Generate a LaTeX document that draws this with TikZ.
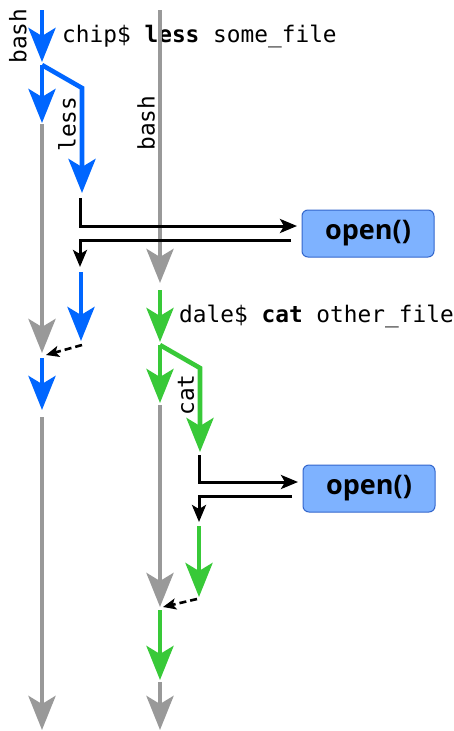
\documentclass[tikz,border=0pt]{standalone}
\usepackage{fontspec}
\setmonofont{DejaVu Sans Mono}
\newfontfamily\boxfont{Open Sans}
\usetikzlibrary{arrows.meta}
\definecolor{cblue}{RGB}{0,102,255}
\definecolor{cgreen}{RGB}{56,201,56}
\definecolor{cgray}{RGB}{153,153,153}
\definecolor{boxfill}{RGB}{126,178,255}
\definecolor{boxdraw}{RGB}{51,102,204}
\begin{document}
\begin{tikzpicture}[x=1pt,y=-1pt,
  flow/.style={line width=4.6pt,line join=miter,-{Stealth[length=34pt,width=27pt,inset=8pt]}},
  callarrow/.style={line width=3pt,-{Stealth[length=17pt,width=14pt,inset=4pt]}},
  retarrow/.style={line width=2.6pt,dash pattern=on 7pt off 4pt,-{Stealth[length=13pt,width=11pt,inset=3pt]}},
  cmd/.style={font=\ttfamily\fontsize{22.8}{24}\selectfont,inner sep=0pt,anchor=base west},
  proc/.style={font=\ttfamily\fontsize{22.8}{24}\selectfont,inner sep=0pt,rotate=90},
  sysbox/.style={draw=boxdraw,fill=boxfill,line width=1pt,rounded corners=6pt,minimum width=132pt,minimum height=47pt,inner sep=0pt,font=\boxfont\bfseries\fontsize{27}{29}\selectfont}
]
\useasboundingbox (0,0) rectangle (454,731);
% lane 1 (chip)
\coordinate (a0) at (42,10);
\coordinate (a1) at (42,62);
\coordinate (a2) at (42,65);
\coordinate (a3) at (42,123);
\coordinate (l0) at (82,88);
\coordinate (l1) at (82,193);
\coordinate (g1s) at (42,124);
\coordinate (g1e) at (42,353);
\coordinate (g2s) at (160,10);
\coordinate (g2e) at (160,283);
\coordinate (k0) at (80,198);
\coordinate (k1) at (80,226);
\coordinate (k2) at (297,226);
\coordinate (k3) at (291,240);
\coordinate (k4) at (80,240);
\coordinate (k5) at (80,267);
\coordinate (r0) at (81,272);
\coordinate (r1) at (81,341);
\coordinate (d0) at (82,345);
\coordinate (d1) at (46,355);
\coordinate (e0) at (42,358);
\coordinate (e1) at (42,410);
\coordinate (f0) at (42,417);
\coordinate (f1) at (42,730);
\node[sysbox] (open1) at (368,233.5) {open()};
\node[cmd] (cmd1) at (62,42) {chip\$ \textbf{less} some\_file};
\node[proc] (bash1) at (18,36) {bash};
\node[proc] (less1) at (67,124) {less};
\node[proc] (bash2) at (146,123) {bash};
\draw[flow,cblue] (a0) -- (a1);
\draw[flow,cblue] (a2) -- (a3);
\draw[flow,cblue] (a2) -- (l0) -- (l1);
\draw[flow,cgray] (g1s) -- (g1e);
\draw[flow,cgray] (g2s) -- (g2e);
\draw[callarrow] (k0) -- (k1) -- (k2);
\draw[callarrow] (k3) -- (k4) -- (k5);
\draw[flow,cblue] (r0) -- (r1);
\draw[retarrow] (d0) -- (d1);
\draw[flow,cblue] (e0) -- (e1);
\draw[flow,cgray] (f0) -- (f1);
% lane 2 (dale)
\coordinate (m0) at (160,290);
\coordinate (m1) at (160,342);
\coordinate (m2) at (160,345);
\coordinate (m3) at (160,403);
\coordinate (c0) at (200,368);
\coordinate (c1) at (200,452);
\coordinate (h0) at (160,405);
\coordinate (h1) at (160,607);
\coordinate (n0) at (199,455);
\coordinate (n1) at (199,482);
\coordinate (n2) at (298,482);
\coordinate (n3) at (292,496);
\coordinate (n4) at (199,496);
\coordinate (n5) at (199,522);
\coordinate (p0) at (199,526);
\coordinate (p1) at (199,597);
\coordinate (q0) at (197,599);
\coordinate (q1) at (163,607);
\coordinate (t0) at (160,610);
\coordinate (t1) at (160,680);
\coordinate (u0) at (160,682);
\coordinate (u1) at (160,730);
\node[sysbox] (open2) at (369,488.5) {open()};
\node[cmd] (cmd2) at (179,322) {dale\$ \textbf{cat} other\_file};
\node[proc] (cat1) at (186,395) {cat};
\draw[flow,cgreen] (m0) -- (m1);
\draw[flow,cgreen] (m2) -- (m3);
\draw[flow,cgreen] (m2) -- (c0) -- (c1);
\draw[flow,cgray] (h0) -- (h1);
\draw[callarrow] (n0) -- (n1) -- (n2);
\draw[callarrow] (n3) -- (n4) -- (n5);
\draw[flow,cgreen] (p0) -- (p1);
\draw[retarrow] (q0) -- (q1);
\draw[flow,cgreen] (t0) -- (t1);
\draw[flow,cgray] (u0) -- (u1);
\end{tikzpicture}
\end{document}
